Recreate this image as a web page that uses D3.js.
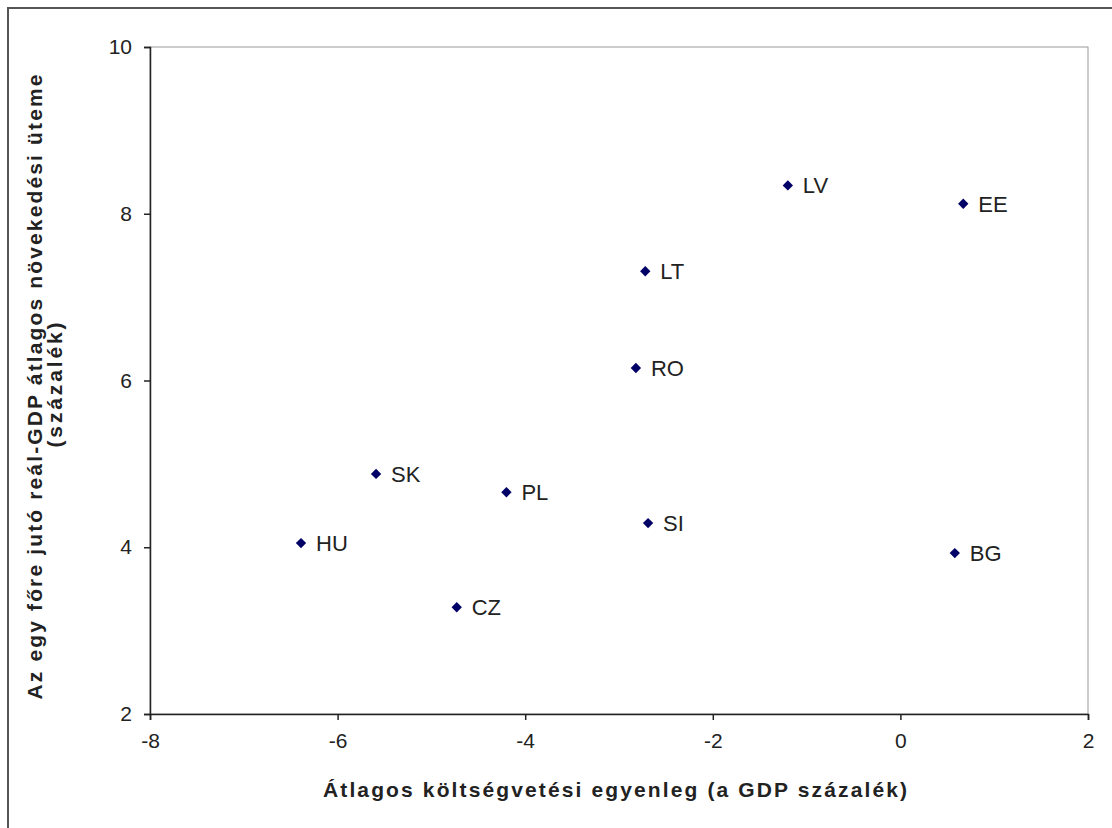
<!DOCTYPE html>
<html>
<head>
<meta charset="utf-8">
<script src="https://cdn.jsdelivr.net/npm/d3@7"></script>
<style>
  body { margin: 0; background: #fff; }
  text { font-family: "Liberation Sans", Arial, sans-serif; }
</style>
</head>
<body>
<script>
// country codes and their values
var countries = ["HU", "SK", "CZ", "PL", "RO", "LT", "SI", "LV", "EE", "BG"];
var balance = [-6.39, -5.59, -4.73, -4.20, -2.82, -2.72, -2.69, -1.20, 0.67, 0.58];
var growth = [4.05, 4.88, 3.28, 4.66, 6.15, 7.31, 4.29, 8.34, 8.12, 3.93];
var xTicks = [-8, -6, -4, -2, 0, 2];
var yTicks = [2, 4, 6, 8, 10];

var w = 1112, h = 828;
var svg = d3.select("body").append("svg")
    .attr("width", w)
    .attr("height", h);

// outer frame
svg.append("rect")
    .attr("x", 8).attr("y", 8)
    .attr("width", w + 20).attr("height", h + 20)
    .style("fill", "#fff")
    .style("stroke", "#555")
    .style("stroke-width", 2);

var pLeft = 150, pRight = 1088, pTop = 47, pBottom = 714;

var x = d3.scaleLinear().domain([-8, 2]).range([pLeft, pRight]);
var y = d3.scaleLinear().domain([2, 10]).range([pBottom, pTop]);

// plot area border
svg.append("rect")
    .attr("x", pLeft).attr("y", pTop)
    .attr("width", pRight - pLeft).attr("height", pBottom - pTop)
    .style("fill", "none")
    .style("stroke", "#999")
    .style("stroke-width", 1);

var plain = function(d){ return String(d); }; // hyphen minus like Excel

var xAxis = svg.append("g")
    .attr("transform", "translate(0," + pBottom + ")")
    .call(d3.axisBottom(x).tickValues(xTicks).tickFormat(plain).tickSize(6).tickPadding(13));

var yAxis = svg.append("g")
    .attr("transform", "translate(" + pLeft + ",0)")
    .call(d3.axisLeft(y).tickValues(yTicks).tickFormat(plain).tickSize(6).tickPadding(12));

[xAxis, yAxis].forEach(function(g){
    g.select(".domain").style("stroke", "#222").style("stroke-width", 1.5);
    g.selectAll(".tick line").style("stroke", "#222").style("stroke-width", 1.5);
    g.selectAll(".tick text")
        .style("font-size", "21px")
        .style("fill", "#222")
        .style("font-family", "'Liberation Sans', Arial, sans-serif");
});

// diamond markers
var pts = countries.map(function(c, i){ return {c: c, x: balance[i], y: growth[i]}; });

svg.selectAll(".pt")
    .data(pts)
    .enter()
    .append("path")
    .attr("class", "pt")
    .attr("d", d3.symbol().type(d3.symbolDiamond2).size(68))
    .attr("transform", function(d){ return "translate(" + x(d.x) + "," + y(d.y) + ")"; })
    .style("fill", "#000066");

svg.selectAll(".lbl")
    .data(pts)
    .enter()
    .append("text")
    .attr("class", "lbl")
    .attr("x", function(d){ return x(d.x) + 15; })
    .attr("y", function(d){ return y(d.y) + 8; })
    .style("font-size", "22px")
    .style("fill", "#222")
    .text(function(d){ return d.c; });

// axis titles (stretched a bit like the original)
svg.append("text")
    .attr("x", 615)
    .attr("y", 797)
    .attr("text-anchor", "middle")
    .attr("textLength", 584)
    .attr("lengthAdjust", "spacing")
    .style("font-size", "21px")
    .style("font-weight", "bold")
    .style("fill", "#222")
    .text("Átlagos költségvetési egyenleg (a GDP százalék)");

svg.append("text")
    .attr("transform", "translate(42,387) rotate(-90)")
    .attr("text-anchor", "middle")
    .attr("textLength", 625)
    .attr("lengthAdjust", "spacing")
    .style("font-size", "21px")
    .style("font-weight", "bold")
    .style("fill", "#222")
    .text("Az egy főre jutó reál-GDP átlagos növekedési üteme");

svg.append("text")
    .attr("transform", "translate(62,385) rotate(-90)")
    .attr("text-anchor", "middle")
    .attr("textLength", 125)
    .attr("lengthAdjust", "spacing")
    .style("font-size", "21px")
    .style("font-weight", "bold")
    .style("fill", "#222")
    .text("(százalék)");
</script>
</body>
</html>
